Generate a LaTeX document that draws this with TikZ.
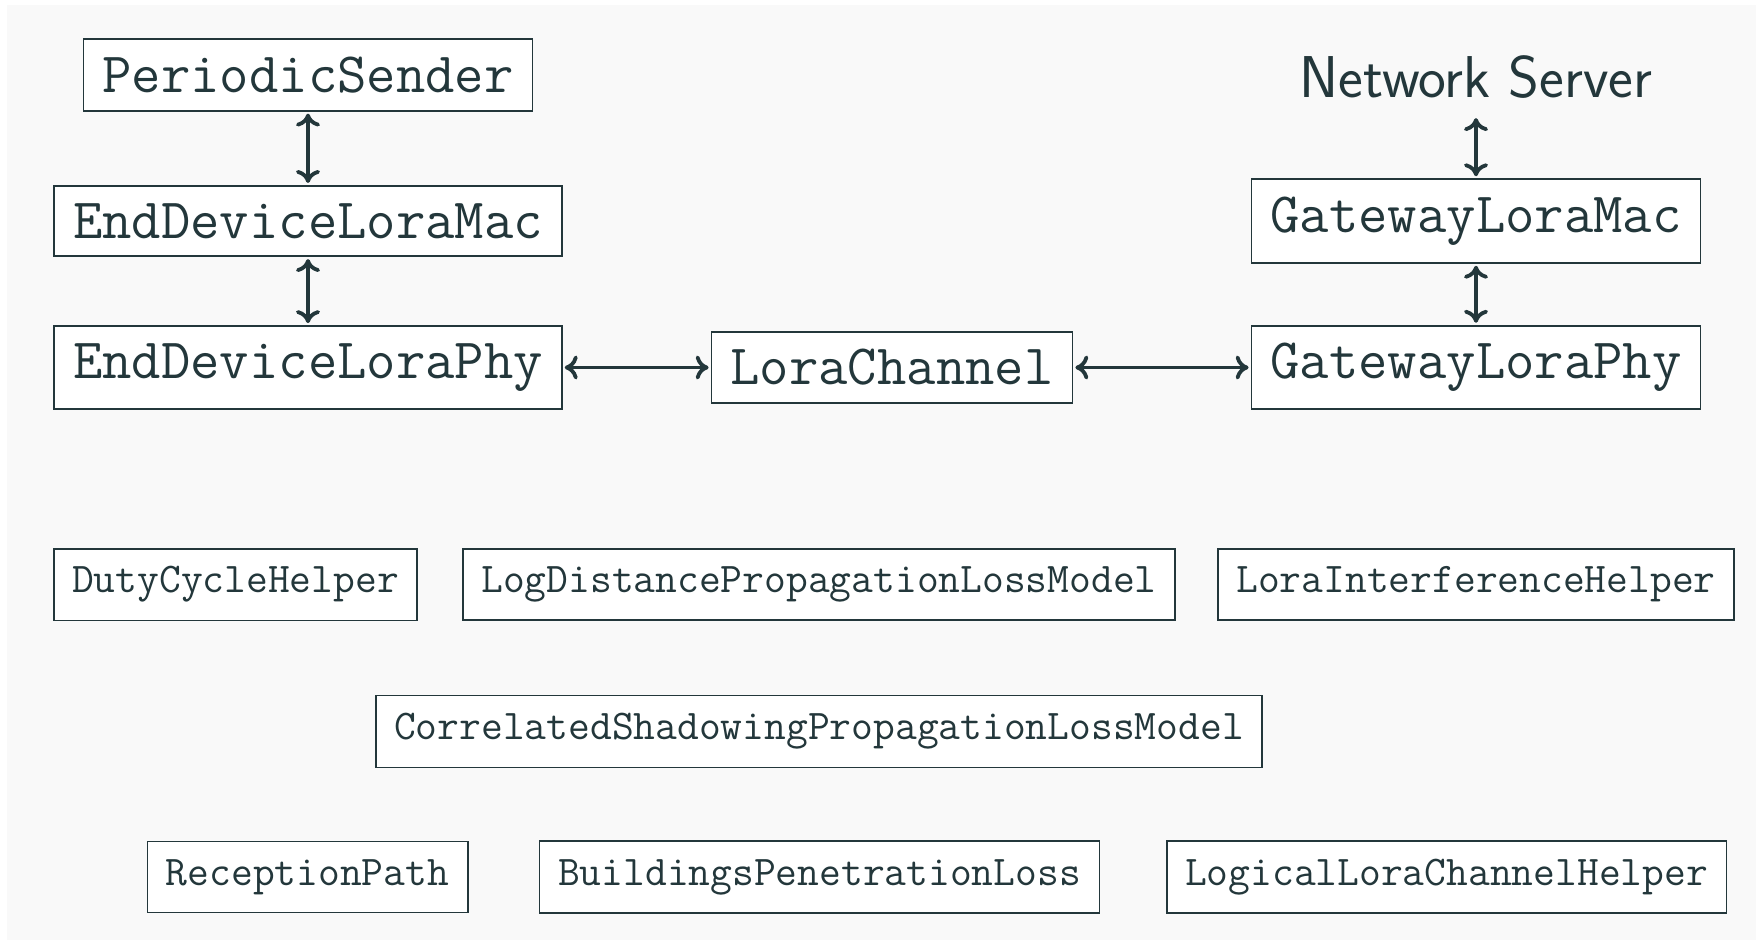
\documentclass[tikz,border=0pt]{standalone}
\usepackage{fontspec}
\usetikzlibrary{arrows.meta}
\definecolor{ink}{HTML}{23373B}
\definecolor{slide}{HTML}{F9F9F9}
\tikzset{
  layerbox/.style={draw=ink, fill=white, line width=1.8pt, text=ink,
    font=\ttfamily\fontsize{57}{61}\selectfont, inner xsep=19pt, inner ysep=17.6pt},
  helperbox/.style={draw=ink, fill=white, line width=1.8pt, text=ink,
    font=\ttfamily\fontsize{42.3}{46}\selectfont, inner xsep=18.5pt, inner ysep=17.9pt},
  link/.style={draw=ink, line width=3.5pt,
    {Computer Modern Rightarrow[length=13pt,width=24pt,line width=3.8pt]}-{Computer Modern Rightarrow[length=13pt,width=24pt,line width=3.8pt]},
    shorten <=2pt, shorten >=2pt}
}
\begin{document}
\begin{tikzpicture}[x=1pt,y=-1pt]
  % page and slide background
  \useasboundingbox (0,0) rectangle (1756,940);
  \fill[white] (0,0) rectangle (1756,940);
  \fill[slide] (7,5) rectangle (1756,940);

  % end-device stack
  \node[layerbox] (ps)    at (308,75)    {PeriodicSender};
  \node[layerbox] (edmac) at (308,221)   {EndDeviceLoraMac};
  \node[layerbox] (edphy) at (308,367.5) {EndDeviceLoraPhy};

  % channel
  \node[layerbox] (chan)  at (892,367.5) {LoraChannel};

  % gateway stack
  \node[layerbox] (gwphy) at (1476,367.5) {GatewayLoraPhy};
  \node[layerbox] (gwmac) at (1476,221)   {GatewayLoraMac};
  \node[text=ink, font=\sffamily\fontsize{59}{63}\selectfont, inner sep=0pt, anchor=base]
    (ns) at (1476,97) {Network Server};

  % connections between the layers
  \draw[link] (ps) -- (edmac);
  \draw[link] (edmac) -- (edphy);
  \draw[link] (edphy) -- (chan);
  \draw[link] (chan) -- (gwphy);
  \draw[link] (gwmac) -- (gwphy);
  \draw[link, shorten <=20pt] (ns.south) -- (gwmac.north);

  % helper classes
  \node[helperbox] (duty)   at (235.5,584.5) {DutyCycleHelper};
  \node[helperbox] (logd)   at (819,584.5)   {LogDistancePropagationLossModel};
  \node[helperbox] (interf) at (1476,584.5)  {LoraInterferenceHelper};
  \node[helperbox] (corr)   at (819,731.5)   {CorrelatedShadowingPropagationLossModel};
  \node[helperbox] (rpath)  at (307.5,877)   {ReceptionPath};
  \node[helperbox] (bpl)    at (819.5,877)   {BuildingsPenetrationLoss};
  \node[helperbox] (llch)   at (1446.5,877)  {LogicalLoraChannelHelper};
\end{tikzpicture}
\end{document}
